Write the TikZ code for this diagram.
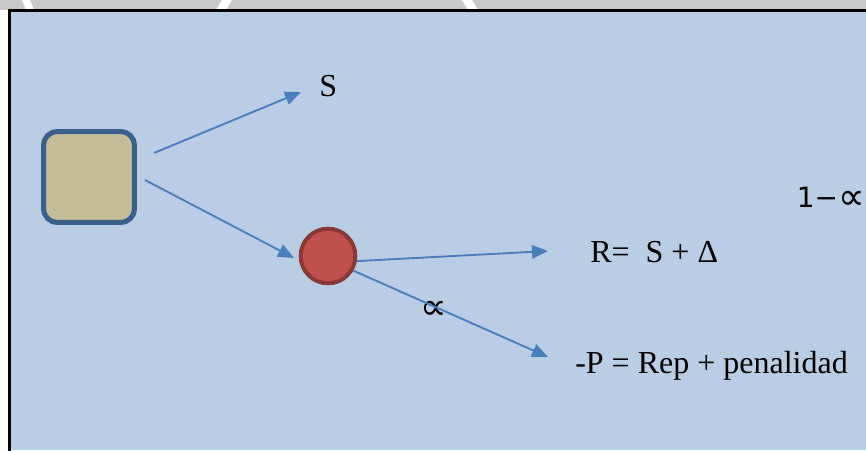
\documentclass[tikz,border=0pt]{standalone}
\usepackage{fontspec}
\setmainfont{Liberation Serif}
\newfontfamily\symfont{DejaVu Sans}
\usetikzlibrary{positioning,arrows.meta,calc}

\definecolor{paneblue}{HTML}{B9CDE5}
\definecolor{boxfill}{HTML}{C4BD97}
\definecolor{boxline}{HTML}{3A5F8B}
\definecolor{dotfill}{HTML}{C0504D}
\definecolor{dotline}{HTML}{8C3836}
\definecolor{arrowblue}{HTML}{4A7EBB}
\definecolor{bandgray}{HTML}{C9C9C9}

\newcommand{\bigprop}{\raisebox{-1.5pt}{\fontsize{28}{28}\selectfont ∝}}

\begin{document}
\begin{tikzpicture}[
    x=0.75pt, y=-0.75pt,
    lbl/.style={font=\fontsize{24}{28}\selectfont, inner sep=0pt},
    sym/.style={font=\symfont\fontsize{21}{25}\selectfont, inner sep=0pt},
    op/.style={-{Triangle[length=12pt, width=10pt]}, arrowblue, line width=1.4pt},
  ]
  \useasboundingbox (0,0) rectangle (866,450);

  % --- top band and frame ---
  \fill[bandgray] (0,0) rectangle (866,10);
  \fill[white] (22,0) -- (30,0) -- (34,10) -- (26,10) -- cycle;
  \fill[white] (222,0) -- (232,0) -- (226,10) -- (216,10) -- cycle;
  \fill[white] (462,0) -- (472,0) -- (478,10) -- (468,10) -- cycle;
  \fill[paneblue] (9,10) rectangle (866,450);
  \draw[black, line width=2.2pt] (9.5,452) -- (9.5,10.5) -- (868,10.5);

  % --- decision box and chance node ---
  \node[draw=boxline, fill=boxfill, line width=3.8pt, rounded corners=10pt,
        minimum size=68pt] (box) at (89,177) {};
  \node[circle, draw=dotline, fill=dotfill, line width=3pt,
        minimum size=41pt, inner sep=0pt] (dot) at (328,256) {};

  % --- outcome labels ---
  \node[lbl, anchor=base west] (s) at (319,96) {S};
  \node[lbl, anchor=base west] (r) at (590,262) {R=\ \ S + Δ};
  \node[lbl, anchor=base west] (p) at (575,373) {-P = Rep + penalidad};
  \node[sym, anchor=base east] (q) at (865,207) {1−\bigprop};
  \node[sym] (a) at (434,310) {\bigprop};

  % arrow ends
  \coordinate (b1) at (154,153);
  \coordinate (b2) at (145,180);
  \coordinate (t1) at (301,92);
  \coordinate (t2) at (294,258);
  \coordinate (t3) at (548,251);
  \coordinate (t4) at (548,357);

  \draw[op] (b1) -- (t1);
  \draw[op] (b2) -- (t2);
  \draw[op] (dot.-10) -- (t3);
  \draw[op] (dot.-30) -- (t4);
\end{tikzpicture}
\end{document}
